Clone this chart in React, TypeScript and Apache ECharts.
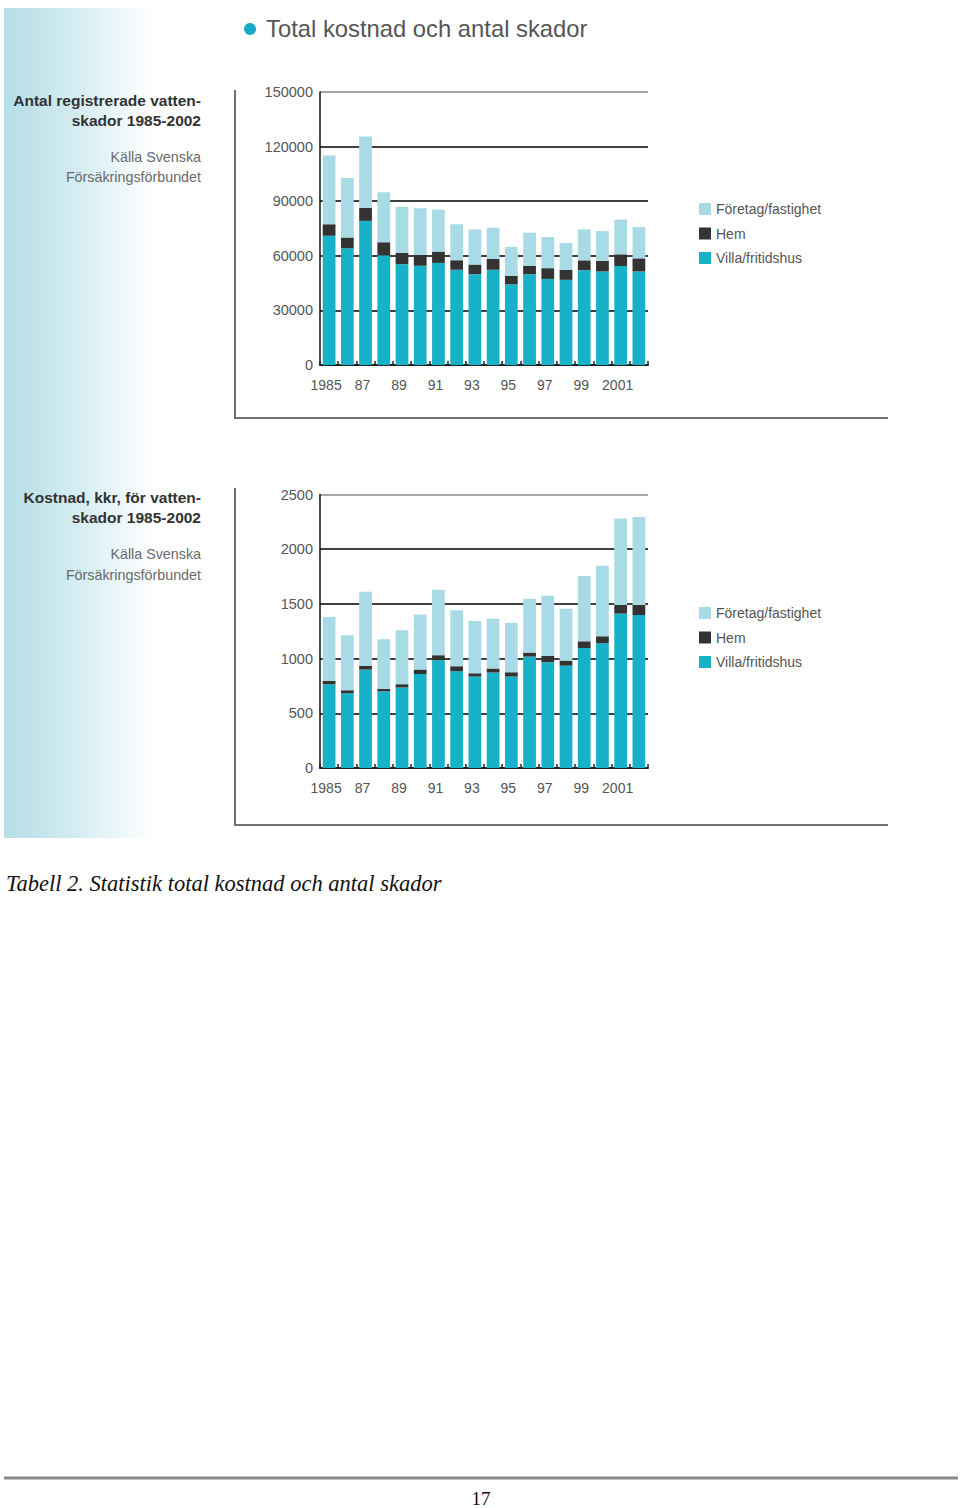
import React, { useEffect, useRef } from "react";
import * as echarts from "echarts";

const years = ["1985","1986","1987","1988","1989","1990","1991","1992","1993","1994","1995","1996","1997","1998","1999","2000","2001","2002"];
const yearLabels = ["1985","","87","","89","","91","","93","","95","","97","","99","","2001",""];

const countVilla = [71000,64100,79200,60300,55400,54600,56100,52300,49900,52300,44300,49900,47300,46800,52100,51400,54400,51400];
const countHem = [6400,6000,7100,7100,6300,6000,6200,5200,5300,6000,4700,4500,5900,5500,5400,5800,6400,7200];
const countForetag = [37700,32600,39300,27500,25200,25500,23100,19900,19300,17100,15800,18300,17100,14700,17000,16400,19100,17200];

const costVilla = [766,684,900,702,736,860,985,885,836,872,836,1018,967,936,1097,1140,1411,1398];
const costHem = [30,27,33,22,30,40,46,45,30,37,40,37,57,46,61,64,79,92];
const costForetag = [584,502,678,452,493,504,598,511,478,456,449,492,551,474,596,644,790,805];

const seriesNames = ["Villa/fritidshus", "Hem", "Företag/fastighet"];
const legendOrder = ["Företag/fastighet", "Hem", "Villa/fritidshus"];
const colors = { villa: "#17b2c7", hem: "#333333", foretag: "#a9dbe6" };

const SANS = "'Liberation Sans', Arial, sans-serif";
const SERIF = "'Liberation Serif', 'Times New Roman', serif";

export default function App() {
  const ref = useRef<HTMLDivElement>(null);
  useEffect(() => {
    if (!ref.current) return;
    const chart = echarts.init(ref.current, null, { renderer: "svg" });

    const mkX = (gridIndex: number) => ({
      type: "category",
      gridIndex,
      data: years,
      axisLine: { show: true, lineStyle: { color: "#222", width: 2 } },
      axisTick: { show: true, inside: true, length: 4, interval: 0, lineStyle: { color: "#222", width: 1.5 } },
      axisLabel: {
        interval: 0,
        margin: 13,
        fontFamily: SANS,
        fontSize: 14,
        color: "#555",
        padding: [0, 6, 0, 0],
        formatter: (_v: string, i: number) => yearLabels[i],
      },
      splitLine: { show: false },
    });
    const mkY = (gridIndex: number, max: number, interval: number) => ({
      type: "value",
      gridIndex,
      min: 0,
      max,
      interval,
      axisLine: { show: true, lineStyle: { color: "#111", width: 1.5 } },
      axisTick: { show: false },
      axisLabel: {
        margin: 7,
        fontFamily: SANS,
        fontSize: 14.5,
        color: "#555",
        padding: [4, 0, 0, 0],
        formatter: (v: number) => String(v),
      },
      splitLine: {
        show: true,
        lineStyle: { color: ["#000", "#000", "#000", "#000", "#000", "#888"], width: 1.6 },
      },
    });
    const mkSeries = (idx: number, stack: string, data: number[][]) =>
      [colors.villa, colors.hem, colors.foretag].map((c, k) => ({
        name: seriesNames[k],
        type: "bar",
        stack,
        xAxisIndex: idx,
        yAxisIndex: idx,
        barCategoryGap: "30%",
        itemStyle: { color: c },
        data: data[k],
      }));
    const mkLegend = (top: number) => ({
      orient: "vertical",
      left: 694,
      top,
      itemWidth: 12,
      itemHeight: 12,
      itemGap: 10.5,
      icon: "rect",
      selectedMode: false,
      data: legendOrder,
      textStyle: { fontFamily: SANS, fontSize: 14, color: "#555" },
    });

    const leftText = (lines: { t: string; y: number; bold: boolean }[]) =>
      lines.map((l) => ({
        type: "text",
        x: 201,
        y: l.y,
        style: {
          text: l.t,
          align: "right",
          verticalAlign: "middle",
          fontFamily: SANS,
          fontSize: l.bold ? 15.5 : 14.3,
          fontWeight: l.bold ? "bold" : "normal",
          fill: l.bold ? "#333" : "#6a6a6a",
        },
      }));

    const frameLine = (x1: number, y1: number, x2: number, y2: number) => ({
      type: "line",
      shape: { x1, y1, x2, y2 },
      style: { stroke: "#707070", lineWidth: 2 },
    });

    chart.setOption({
      animation: false,
      grid: [
        { left: 320, top: 92, width: 328, height: 273, containLabel: false },
        { left: 320, top: 494.5, width: 328, height: 273.5, containLabel: false },
      ],
      xAxis: [mkX(0), mkX(1)],
      yAxis: [mkY(0, 150000, 30000), mkY(1, 2500, 500)],
      legend: [mkLegend(197), mkLegend(601)],
      series: [
        ...mkSeries(0, "count", [countVilla, countHem, countForetag]),
        ...mkSeries(1, "cost", [costVilla, costHem, costForetag]),
      ],
      graphic: [
        {
          type: "rect",
          z: -10,
          shape: { x: 4, y: 8, width: 150, height: 830 },
          style: {
            fill: new echarts.graphic.LinearGradient(0, 0, 1, 0, [
              { offset: 0, color: "#b4dde6" },
              { offset: 0.5, color: "#d6edf2" },
              { offset: 1, color: "#ffffff" },
            ]),
          },
        },
        { type: "circle", shape: { cx: 250, cy: 29, r: 6 }, style: { fill: "#1aa9c4" } },
        {
          type: "text",
          x: 266,
          y: 28,
          style: {
            text: "Total kostnad och antal skador",
            verticalAlign: "middle",
            fontFamily: SANS,
            fontSize: 23.8,
            fill: "#555",
          },
        },
        ...leftText([
          { t: "Antal registrerade vatten-", y: 100, bold: true },
          { t: "skador 1985-2002", y: 120, bold: true },
          { t: "Källa Svenska", y: 157, bold: false },
          { t: "Försäkringsförbundet", y: 177, bold: false },
          { t: "Kostnad, kkr, för vatten-", y: 497, bold: true },
          { t: "skador 1985-2002", y: 517, bold: true },
          { t: "Källa Svenska", y: 554, bold: false },
          { t: "Försäkringsförbundet", y: 575, bold: false },
        ]),
        frameLine(235, 90, 235, 418),
        frameLine(234, 418, 888, 418),
        frameLine(235, 488, 235, 825),
        frameLine(234, 825, 888, 825),
        {
          type: "text",
          x: 6,
          y: 883,
          style: {
            text: "Tabell 2. Statistik total kostnad och antal skador",
            verticalAlign: "middle",
            fontFamily: SERIF,
            fontStyle: "italic",
            fontSize: 22.5,
            fill: "#111",
          },
        },
        {
          type: "line",
          shape: { x1: 4, y1: 1478, x2: 958, y2: 1478 },
          style: { stroke: "#8a8a8a", lineWidth: 3 },
        },
        {
          type: "text",
          x: 481,
          y: 1498,
          style: {
            text: "17",
            align: "center",
            verticalAlign: "middle",
            fontFamily: SERIF,
            fontSize: 19,
            fill: "#111",
          },
        },
      ],
    });
    return () => chart.dispose();
  }, []);

  return (
    <div
      ref={ref}
      style={{ position: "absolute", left: 0, top: 0, width: 960, height: 1508, background: "#fff" }}
    />
  );
}
